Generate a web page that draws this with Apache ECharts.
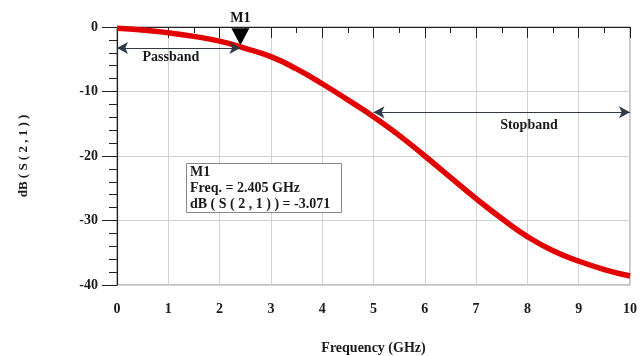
<!DOCTYPE html>
<html>
<head>
<meta charset="utf-8">
<script src="https://cdn.jsdelivr.net/npm/echarts@6/dist/echarts.min.js"></script>
<style>
  html, body { margin: 0; padding: 0; background: #fff; }
  #chart { width: 643px; height: 356px; }
</style>
</head>
<body>
<div id="chart"></div>
<script>
// Filter response |S21| in dB versus frequency
const freqGHz = [0, 0.5, 1, 1.5, 2, 2.5, 3, 3.5, 4, 4.5, 5, 5.5, 6, 6.5, 7, 7.5, 8, 8.5, 9, 9.5, 10];
const s21dB   = [-0.2, -0.45, -0.9, -1.45, -2.2, -3.3, -4.6, -6.5, -8.8, -11.3, -13.9, -16.8, -20.0, -23.3, -26.6, -29.7, -32.5, -34.7, -36.3, -37.6, -38.6];

// Axis ticks
const xTicks = [0, 10, 1];      // min, max, step (GHz)
const yTicks = [-40, 0, 10];    // min, max, step (dB)

// Marker M1
const markerName = 'M1';
const markerFreq = 2.405;
const markerDb = -3.071;

// Band arrows: [startFreq, endFreq, level dB]
const passbandArrow = [0, 2.405, -3.25];
const stopbandArrow = [5, 10, -13.2];

// Band labels: [freq, dB, text]
const bandLabels = [
  [1.05, -4.7, 'Passband'],
  [8.03, -15.2, 'Stopband']
];

const serif = '"Liberation Serif", "Times New Roman", serif';
const arrowColor = '#2e3b47';
const textColor = '#1a1a1a';

const chart = echarts.init(document.getElementById('chart'), null, { renderer: 'canvas' });

chart.setOption({
  animation: false,
  backgroundColor: '#fff',
  title: {
    text: markerName + '\nFreq. = ' + markerFreq.toFixed(3) + ' GHz\ndB ( S ( 2 , 1 ) ) = ' + markerDb.toFixed(3),
    left: 186,
    top: 163,
    padding: [1, 12, 1, 4],
    backgroundColor: '#fff',
    borderColor: '#8a8a8a',
    borderWidth: 1,
    textStyle: {
      fontFamily: serif,
      fontWeight: 'bold',
      fontSize: 14,
      lineHeight: 16,
      color: textColor
    }
  },
  grid: {
    left: 117, right: 13, top: 27, bottom: 71,
    outerBoundsMode: 'none',
    containLabel: false,
    show: true,
    borderColor: '#8a8a8a',
    borderWidth: 1,
    backgroundColor: 'transparent'
  },
  xAxis: {
    type: 'value',
    min: xTicks[0], max: xTicks[1], interval: xTicks[2],
    name: 'Frequency (GHz)',
    nameLocation: 'middle',
    nameGap: 56,
    nameTextStyle: { fontFamily: serif, fontWeight: 'bold', fontSize: 14, color: textColor },
    axisLine: { show: true, lineStyle: { color: '#222', width: 1.2 } },
    axisTick: { show: true, inside: false, length: 11, lineStyle: { color: '#222' } },
    minorTick: { show: true, splitNumber: 2, length: 6, lineStyle: { color: '#222' } },
    axisLabel: { fontFamily: serif, fontWeight: 'bold', fontSize: 14, color: textColor, margin: 17 },
    splitLine: { show: true, lineStyle: { color: '#d2d2d2', width: 1 } }
  },
  yAxis: {
    type: 'value',
    min: yTicks[0], max: yTicks[1], interval: yTicks[2],
    name: 'dB ( S ( 2 , 1 ) )',
    nameLocation: 'middle',
    nameGap: 87,
    nameRotate: 90,
    nameTextStyle: { fontFamily: serif, fontWeight: 'bold', fontSize: 13, color: textColor },
    axisLine: { show: true, lineStyle: { color: '#222', width: 1.2 } },
    axisTick: { show: true, inside: false, length: 15, lineStyle: { color: '#222' } },
    minorTick: { show: true, splitNumber: 5, length: 8, lineStyle: { color: '#222' } },
    axisLabel: { fontFamily: serif, fontWeight: 'bold', fontSize: 14, color: textColor, margin: 19 },
    splitLine: { show: true, lineStyle: { color: '#d2d2d2', width: 1 } }
  },
  series: [
    {
      type: 'line',
      data: freqGHz.map((f, i) => [f, s21dB[i]]),
      smooth: true,
      showSymbol: false,
      symbol: 'none',
      lineStyle: { color: '#e30000', width: 5.5 },
      z: 3,
      markPoint: {
        symbol: 'triangle',
        symbolRotate: 180,
        symbolSize: [18, 17],
        symbolOffset: [0, -10],
        itemStyle: { color: '#000' },
        label: {
          show: true,
          position: 'top',
          distance: 3,
          formatter: markerName,
          fontFamily: serif,
          fontWeight: 'bold',
          fontSize: 14,
          color: '#111'
        },
        data: [{ coord: [markerFreq, markerDb] }]
      },
      markLine: {
        silent: true,
        symbol: ['arrow', 'arrow'],
        symbolSize: [9, 11],
        label: { show: false },
        lineStyle: { color: arrowColor, width: 1.2, type: 'solid' },
        data: [
          [{ coord: [passbandArrow[0], passbandArrow[2]] }, { coord: [passbandArrow[1], passbandArrow[2]] }],
          [{ coord: [stopbandArrow[0], stopbandArrow[2]] }, { coord: [stopbandArrow[1], stopbandArrow[2]] }]
        ]
      }
    },
    {
      type: 'scatter',
      data: bandLabels.map(d => ({ value: [d[0], d[1]], name: d[2] })),
      symbolSize: 1,
      itemStyle: { color: 'rgba(0,0,0,0)' },
      silent: true,
      label: {
        show: true,
        position: 'inside',
        formatter: p => p.name,
        fontFamily: serif,
        fontWeight: 'bold',
        fontSize: 14,
        color: textColor,
        opacity: 1,
        textBorderWidth: 0
      },
      z: 4
    }
  ]
});
</script>
</body>
</html>
